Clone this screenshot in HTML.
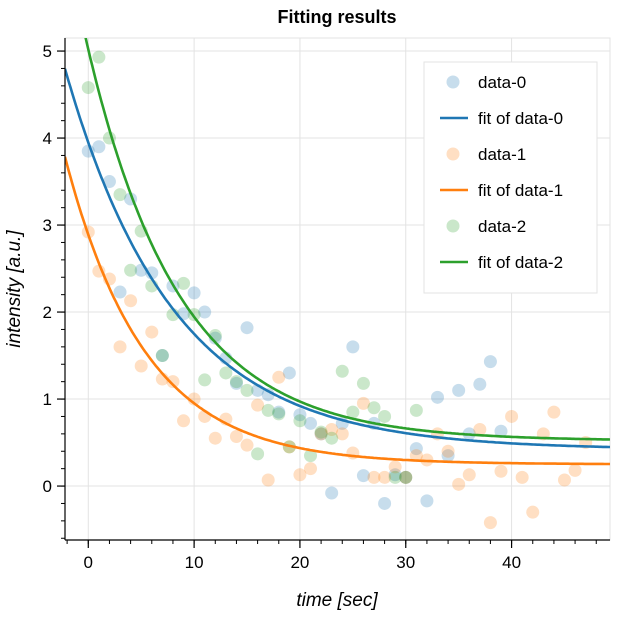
<!DOCTYPE html>
<html><head><meta charset="utf-8"><style>
html,body{margin:0;padding:0;background:#fff;}
svg{display:block;font-family:"Liberation Sans",Arial,sans-serif;}
</style></head><body>
<svg id="chart" width="623" height="621" viewBox="0 0 623 621" xmlns="http://www.w3.org/2000/svg">
<text x="337" y="23" text-anchor="middle" font-size="18" font-weight="bold">Fitting results</text>
<g id="grid"></g>
<g id="marks"></g>
<g id="axes"></g>
<text x="337" y="606" text-anchor="middle" font-size="19" font-style="italic">time [sec]</text>
<text transform="translate(20,289) rotate(-90)" text-anchor="middle" font-size="19" font-style="italic">intensity [a.u.]</text>
<g id="legend"></g>
</svg>
<script>
const xTicks=[0,10,20,30,40];
const yTicks=[0,1,2,3,4,5];
const data0X=[0,1,2,3,4,5,6,7,8,9,10,11,12,13,14,15,16,17,18,19,20,21,22,23,24,25,26,27,28,29,30,31,32,33,34,35,36,37,38,39];
const data0Y=[3.85,3.9,3.5,2.23,3.3,2.48,2.45,1.5,2.3,1.98,2.22,2.0,1.7,1.47,1.18,1.82,1.1,1.05,0.85,1.3,0.82,0.72,0.6,-0.08,0.72,1.6,0.12,0.72,-0.2,0.13,0.1,0.43,-0.17,1.02,0.35,1.1,0.6,1.17,1.43,0.63];
const data1X=[0,1,2,3,4,5,6,7,8,9,10,11,12,13,14,15,16,17,18,19,20,21,22,23,24,25,26,27,28,29,30,31,32,33,34,35,36,37,38,39,40,41,42,43,44,45,46,47];
const data1Y=[2.92,2.47,2.38,1.6,2.13,1.38,1.77,1.23,1.2,0.75,1.0,0.8,0.55,0.77,0.57,0.47,0.93,0.07,1.25,0.45,0.13,0.2,0.6,0.65,0.6,0.38,0.95,0.1,0.1,0.22,0.1,0.35,0.3,0.6,0.4,0.02,0.13,0.65,-0.42,0.17,0.8,0.1,-0.3,0.6,0.85,0.07,0.18,0.5];
const data2X=[0,1,2,3,4,5,6,7,8,9,10,11,12,13,14,15,16,17,18,19,20,21,22,23,24,25,26,27,28,29,30,31];
const data2Y=[4.58,4.93,4.0,3.35,2.48,2.93,2.3,1.5,1.97,2.33,1.97,1.22,1.73,1.3,1.2,1.1,0.37,0.87,0.83,0.45,0.75,0.35,0.62,0.55,1.32,0.85,1.18,0.9,0.8,0.1,0.1,0.87];
// fit params: amplitude, rate, offset
const fit0=[3.53,0.0977,0.42];
const fit1=[2.64,0.1326,0.25];
const fit2=[4.5,0.115,0.52];
const seriesNames=["data-0","fit of data-0","data-1","fit of data-1","data-2","fit of data-2"];
const colors=["#1f77b4","#ff7f0e","#2ca02c"];

const L=65,R=610,T=38,B=540,xMin=-2.2,xMax=49.3,yMin=-0.62,yMax=5.15;
const sx=v=>L+(v-xMin)/(xMax-xMin)*(R-L);
const sy=v=>B-(v-yMin)/(yMax-yMin)*(B-T);
const NS="http://www.w3.org/2000/svg";
function mk(tag,attrs,parent){const e=document.createElementNS(NS,tag);for(const k in attrs)e.setAttribute(k,attrs[k]);parent.appendChild(e);return e;}
const grid=document.getElementById('grid'),marks=document.getElementById('marks'),axes=document.getElementById('axes'),legend=document.getElementById('legend');
mk('rect',{x:L,y:T,width:R-L,height:B-T,fill:'none',stroke:'#e3e3e3'},grid);
xTicks.forEach(t=>{const l=mk('line',{x1:sx(t),x2:sx(t),y1:T,y2:B,stroke:'#e3e3e3'},grid);

});
yTicks.forEach(t=>{const l=mk('line',{x1:L,x2:R,y1:sy(t),y2:sy(t),stroke:'#e3e3e3'},grid);

});
const svg=document.getElementById('chart');
const cp=mk('clipPath',{id:'clip'},svg);
mk('rect',{x:L,y:T,width:R-L,height:B-T},cp);
marks.setAttribute('clip-path','url(#clip)');
function scatter(xs,ys,c,name){xs.forEach((x,i)=>{const p=mk('circle',{cx:sx(x),cy:sy(ys[i]),r:6.5,fill:c,'fill-opacity':0.25},marks);

});}
function fitLine(f,c,name){let d='';for(let i=0;i<=300;i++){const t=xMin+(xMax-xMin)*i/300;const v=f[2]+f[0]*Math.exp(-f[1]*t);d+=(i?'L':'M')+sx(t).toFixed(1)+','+sy(v).toFixed(1);}
const p=mk('path',{d:d,fill:'none',stroke:c,'stroke-width':2.6},marks);

}
scatter(data0X,data0Y,colors[0],'data-0');
scatter(data1X,data1Y,colors[1],'data-1');
scatter(data2X,data2Y,colors[2],'data-2');
fitLine(fit0,colors[0],'fit-data-0');
fitLine(fit1,colors[1],'fit-data-1');
fitLine(fit2,colors[2],'fit-data-2');
mk('line',{x1:L,x2:L,y1:T,y2:B,stroke:'#000','stroke-width':1.2},axes);
mk('line',{x1:L,x2:R,y1:B,y2:B,stroke:'#000','stroke-width':1.2},axes);
for(let v=-0.6;v<=5.15;v+=0.2){mk('line',{x1:L-4,x2:L,y1:sy(v),y2:sy(v),stroke:'#000'},axes);}
for(let v=-2;v<=49;v+=2){mk('line',{x1:sx(v),x2:sx(v),y1:B,y2:B+4,stroke:'#000'},axes);}
yTicks.forEach(t=>{mk('line',{x1:L-8,x2:L,y1:sy(t),y2:sy(t),stroke:'#000','stroke-width':1.2},axes);
const tx=mk('text',{x:L-13,y:sy(t)+6,'text-anchor':'end','font-size':17},axes);tx.textContent=t;

});
xTicks.forEach(t=>{mk('line',{x1:sx(t),x2:sx(t),y1:B,y2:B+8,stroke:'#000','stroke-width':1.2},axes);
const tx=mk('text',{x:sx(t),y:B+28,'text-anchor':'middle','font-size':17},axes);tx.textContent=t;

});
mk('rect',{x:424,y:62,width:173,height:231,fill:'#fff',stroke:'#e3e3e3'},legend);
seriesNames.forEach((n,i)=>{const y=82+i*36;const c=colors[Math.floor(i/2)];
const g=mk('g',{},legend);


if(i%2===0)mk('circle',{cx:453,cy:y,r:6.5,fill:c,'fill-opacity':0.25},g);
else mk('line',{x1:440,x2:468,y1:y,y2:y,stroke:c,'stroke-width':2.6},g);
const t=mk('text',{x:478,y:y+6,'font-size':17},g);t.textContent=n;});
</script>
</body></html>
